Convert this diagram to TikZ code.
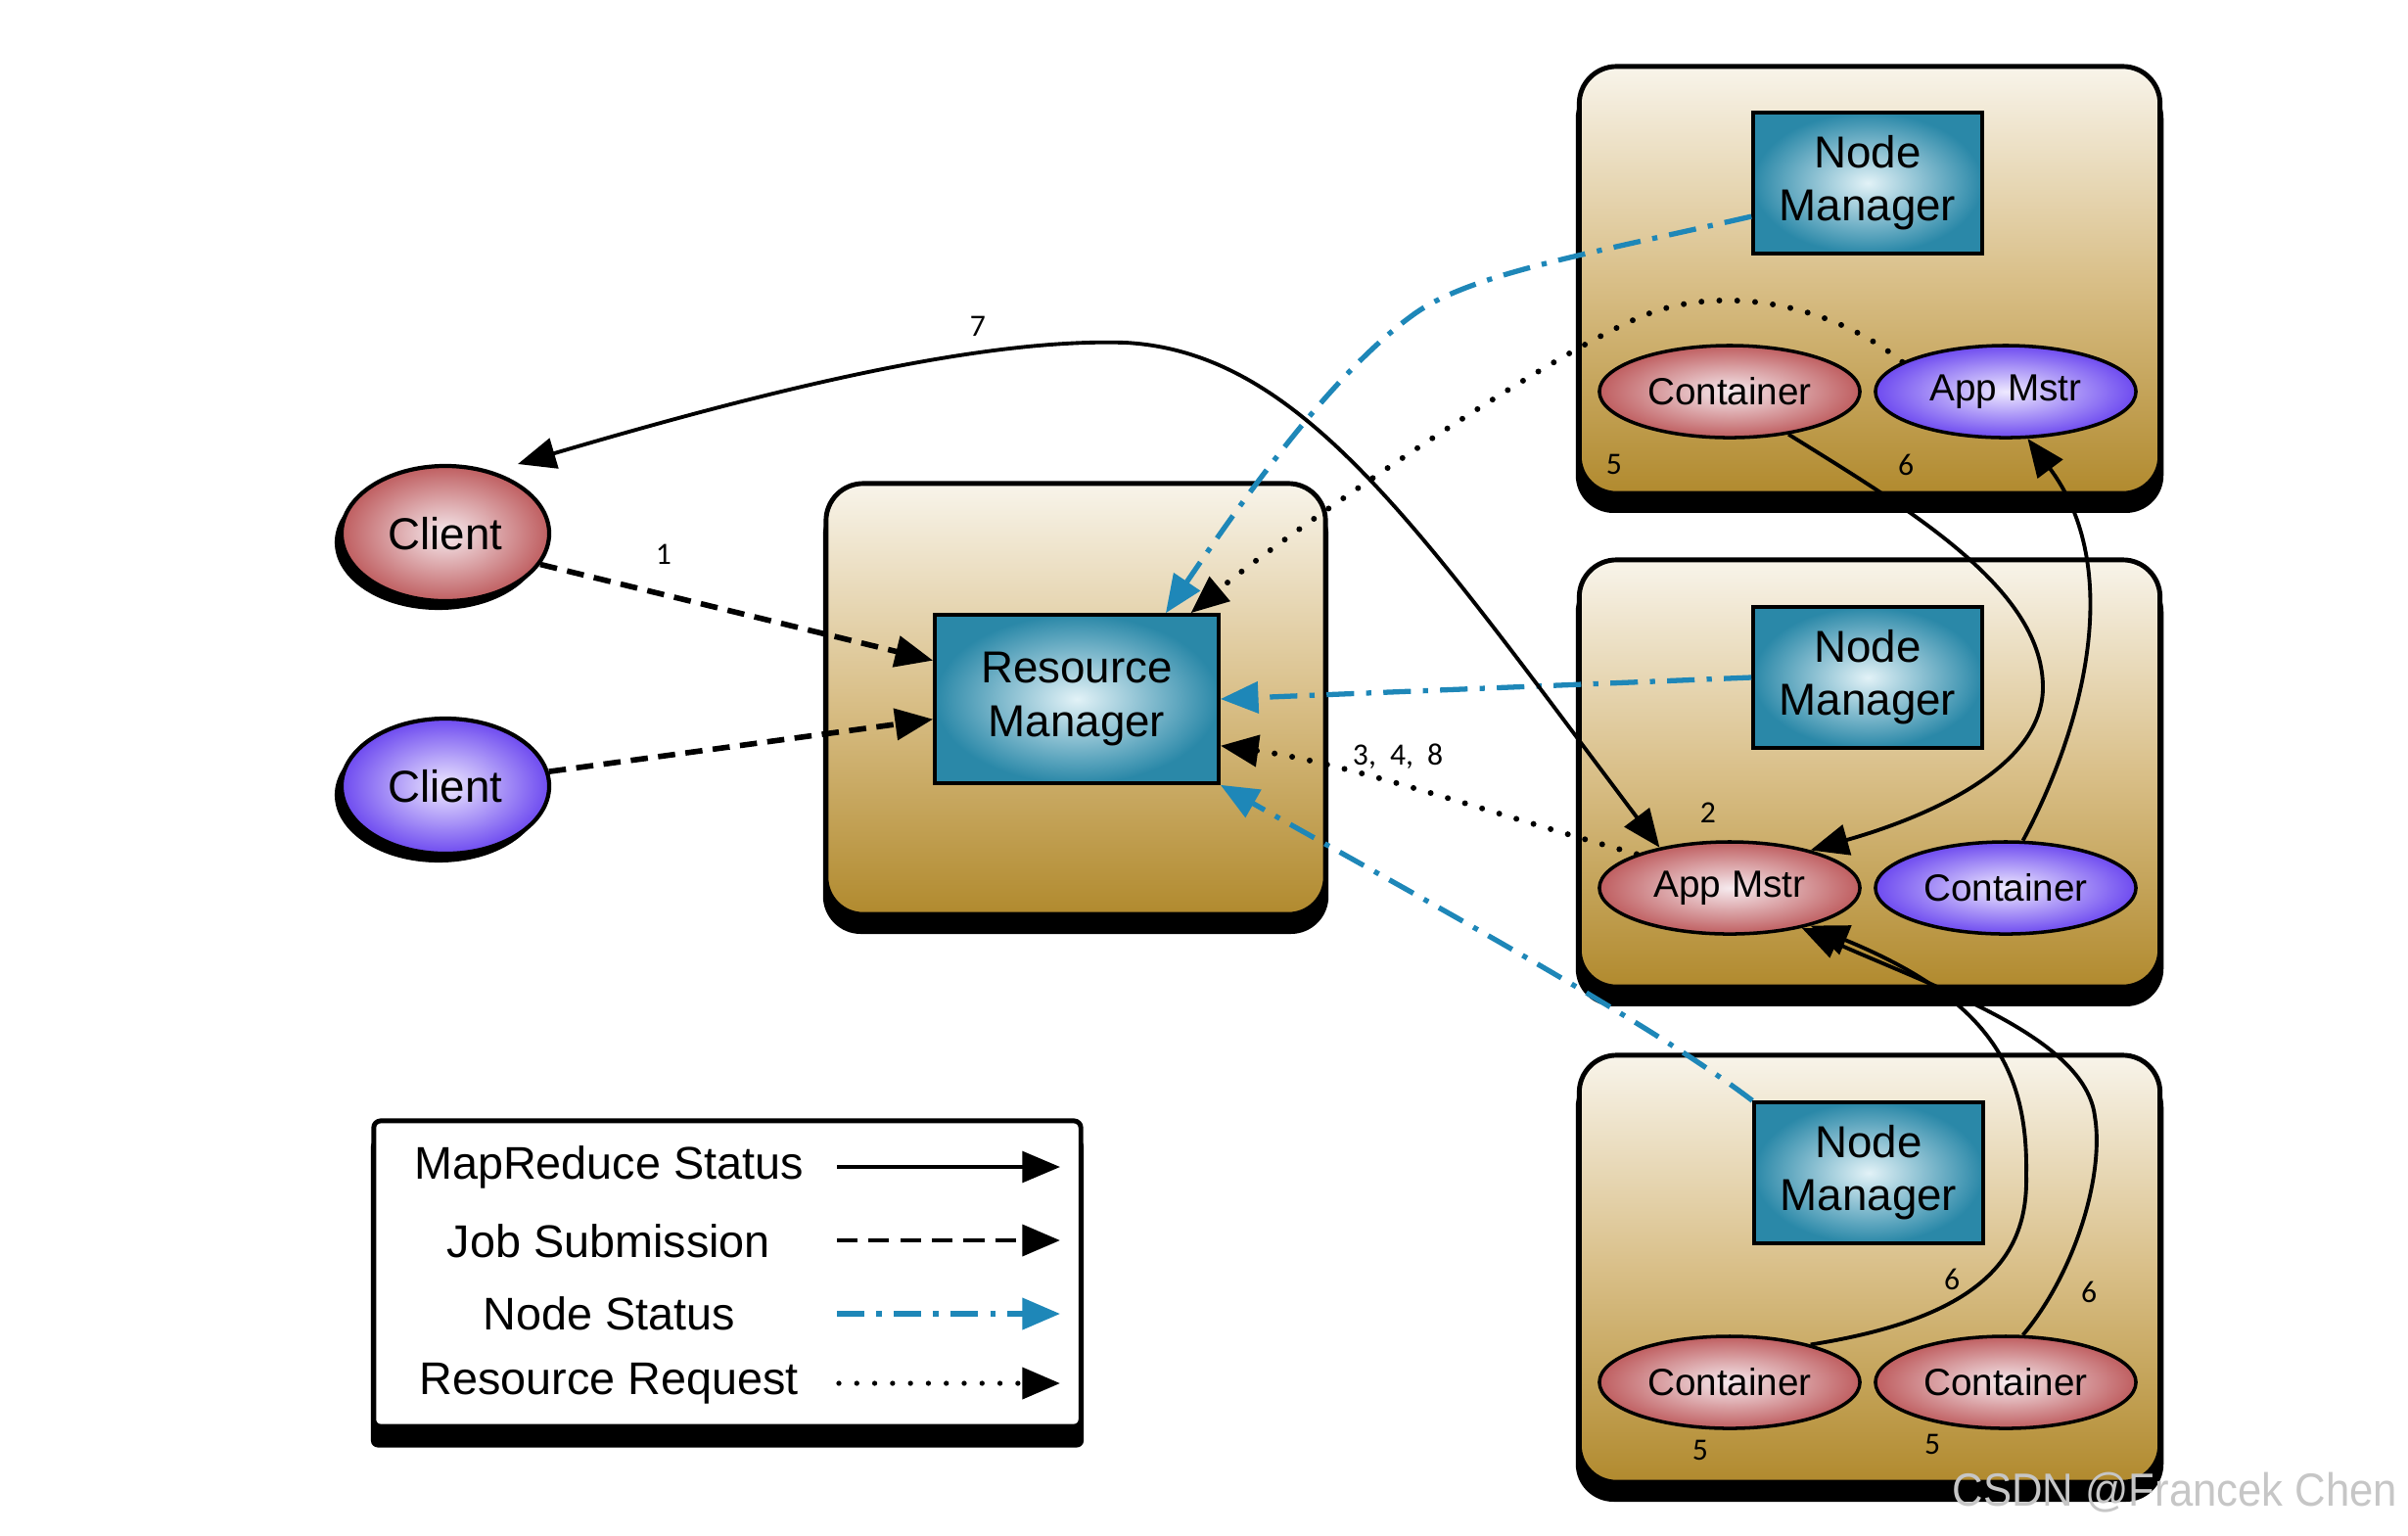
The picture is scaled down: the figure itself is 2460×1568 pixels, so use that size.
\documentclass[tikz,border=0pt]{standalone}
\usepackage{fontspec}
\setmainfont{Liberation Sans}
\newfontfamily\numfont{Carlito}
\usetikzlibrary{arrows.meta,shapes.geometric,shadows}
\definecolor{boxtop}{HTML}{F8F4EA}
\definecolor{boxmid}{HTML}{D9BF88}
\definecolor{boxbot}{HTML}{B18A2E}
\definecolor{nmout}{HTML}{2A88A8}
\definecolor{nmin}{HTML}{E2F2F7}
\definecolor{redout}{HTML}{BF5E60}
\definecolor{redin}{HTML}{F6EAEE}
\definecolor{purout}{HTML}{6E4BF0}
\definecolor{purin}{HTML}{EEE9FF}
\definecolor{nsblue}{HTML}{1E87B8}
\begin{document}
\begin{tikzpicture}[x=0.01cm,y=-0.01cm,
  >={Triangle[length=11pt,width=9pt]},
  hostbox/.style={draw=black, line width=1.4pt, rounded corners=0.38cm,
    top color=boxtop, bottom color=boxbot, middle color=boxmid, inner sep=0,
    general shadow={fill=black, shadow yshift=-0.17cm, shadow scale=1.012}},
  legbox/.style={draw=black, line width=1.4pt, rounded corners=2pt, fill=white, inner sep=0,
    general shadow={fill=black, shadow yshift=-0.2cm, shadow scale=1.008}},
  mgrbox/.style={rectangle, draw=black, line width=1pt, inner color=nmin, outer color=nmout,
    align=center, inner sep=0, font=\fontsize{13}{15.4}\selectfont},
  cont/.style={ellipse, draw=black, line width=1pt, minimum width=2.66cm, minimum height=0.94cm,
    inner sep=0, font=\fontsize{11}{13}\selectfont},
  redfill/.style={inner color=redin, outer color=redout},
  purfill/.style={inner color=purin, outer color=purout},
  client/.style={ellipse, draw=black, line width=1.2pt, minimum width=2.12cm, minimum height=1.38cm,
    inner sep=0, font=\fontsize{13}{15}\selectfont,
    general shadow={fill=black, shadow xshift=-0.07cm, shadow yshift=-0.09cm}},
  num/.style={font=\numfont\fontsize{9}{10}\selectfont, inner sep=1pt},
  legtext/.style={font=\fontsize{13.3}{15}\selectfont, inner sep=0},
  mrs/.style={draw=black, line width=1.1pt, ->},
  jobsub/.style={draw=black, line width=1.6pt, dash pattern=on 5pt off 3pt, ->},
  nodestat/.style={draw=nsblue, line width=1.5pt, dash pattern=on 8pt off 3.5pt on 1.5pt off 3.5pt, ->},
  resreq/.style={draw=black, line width=1.7pt, line cap=round, dash pattern=on 0pt off 5.2pt, ->}
]
\useasboundingbox (0,0) rectangle (2460,1568);

% host boxes
\node[hostbox, minimum width=5.93cm, minimum height=4.36cm] (h1) at (1910,286) {};
\node[hostbox, minimum width=5.93cm, minimum height=4.36cm] (h2) at (1910,790) {};
\node[hostbox, minimum width=5.93cm, minimum height=4.36cm] (h3) at (1910,1296) {};
\node[hostbox, minimum width=5.1cm, minimum height=4.4cm] (hrm) at (1099,714) {};

% legend box
\node[legbox, minimum width=7.22cm, minimum height=3.12cm] (leg) at (743,1301) {};

% managers
\node[mgrbox, minimum width=2.34cm, minimum height=1.44cm] (nm1) at (1908,187) {Node\\Manager};
\node[mgrbox, minimum width=2.34cm, minimum height=1.44cm] (nm2) at (1908,692) {Node\\Manager};
\node[mgrbox, minimum width=2.34cm, minimum height=1.44cm] (nm3) at (1909,1198) {Node\\Manager};
\node[mgrbox, minimum width=2.9cm, minimum height=1.72cm] (rm) at (1100,714) {Resource\\Manager};

% containers / app masters
\node[cont, redfill] (c1) at (1767,400) {Container};
\node[cont, purfill] (am1) at (2049,400) {App Mstr};
\node[cont, redfill] (am2) at (1767,907) {App Mstr};
\node[cont, purfill] (c2) at (2049,907) {Container};
\node[cont, redfill] (c3a) at (1767,1412) {Container};
\node[cont, redfill] (c3b) at (2049,1412) {Container};

% clients
\node[client, redfill] (cr) at (455,545) {Client};
\node[client, purfill] (cp) at (455,803) {Client};

% job submission
\draw[jobsub] (cr.-18) -- (rm.165);
\draw[jobsub] (cp.8) -- (rm.-172);

% node status
\draw[nodestat] (nm1.196) .. controls (1620,260) and (1500,280) .. (1443,322)
   .. controls (1370,375) and (1290,480) .. (rm.44);
\draw[nodestat] (nm2.west) -- (rm.east);
\draw[nodestat] (nm3.north west) .. controls (1680,1040) and (1420,900) .. (rm.south east);

% resource request
\draw[resreq] (am1.164) .. controls (1870,310) and (1760,290) .. (1680,322)
   .. controls (1580,362) and (1310,548) .. (rm.37);
\draw[resreq] (am2.160) .. controls (1520,830) and (1380,780) .. (rm.-18);

% mapreduce status
\coordinate (t7) at (529,474);
\draw[mrs, <->] (t7) .. controls (780,400) and (1000,345) .. (1150,350)
   .. controls (1330,360) and (1450,540) .. (am2.150);
\draw[mrs] (c1.-36) .. controls (1950,520) and (2085,600) .. (2087,700)
   .. controls (2089,790) and (1950,840) .. (am2.25);
\draw[mrs] (c2.70) .. controls (2130,740) and (2170,580) .. (am1.-65);
\draw[mrs] (c3a.25) .. controls (2030,1345) and (2072,1280) .. (2070,1200)
   .. controls (2072,1090) and (2030,1020) .. (am2.-25);
\draw[mrs] (c3b.70) .. controls (2120,1300) and (2150,1200) .. (2140,1140)
   .. controls (2130,1060) and (1980,1010) .. (am2.-29);

% step labels
\node[num] (n7) at (999,333) {7};
\node[num] (n1) at (678,566) {1};
\node[num] (n348) at (1428,773) {3,\hspace{4pt}4,\hspace{4pt}8};
\node[num] (n2) at (1745,830) {2};
\node[num] (n5a) at (1649,474) {5};
\node[num] (n6a) at (1947,475) {6};
\node[num] (n6b) at (1994,1307) {6};
\node[num] (n6c) at (2134,1320) {6};
\node[num] (n5b) at (1737,1481) {5};
\node[num] (n5c) at (1974,1475) {5};

% legend
\node[legtext] (lt1) at (622,1192) {MapReduce Status};
\node[legtext] (lt2) at (622,1268) {Job Submission};
\node[legtext] (lt3) at (622,1342) {Node Status};
\node[legtext] (lt4) at (622,1413) {Resource Request};
\coordinate (l1a) at (855,1192); \coordinate (l1b) at (1083,1192);
\coordinate (l2a) at (855,1267); \coordinate (l2b) at (1083,1267);
\coordinate (l3a) at (855,1342); \coordinate (l3b) at (1083,1342);
\coordinate (l4a) at (857,1413); \coordinate (l4b) at (1083,1413);
\draw[mrs] (l1a) -- (l1b);
\draw[jobsub, line width=1.4pt, dash pattern=on 6pt off 3.2pt] (l2a) -- (l2b);
\draw[nodestat] (l3a) -- (l3b);
\draw[resreq, line width=1.5pt] (l4a) -- (l4b);

% watermark
\node[font=\fontsize{13.5}{15}\selectfont, text=gray!45, inner sep=0, anchor=east] (wm) at (2450,1525) {\scalebox{0.92}[1]{CSDN @Francek Chen}};
\end{tikzpicture}
\end{document}
